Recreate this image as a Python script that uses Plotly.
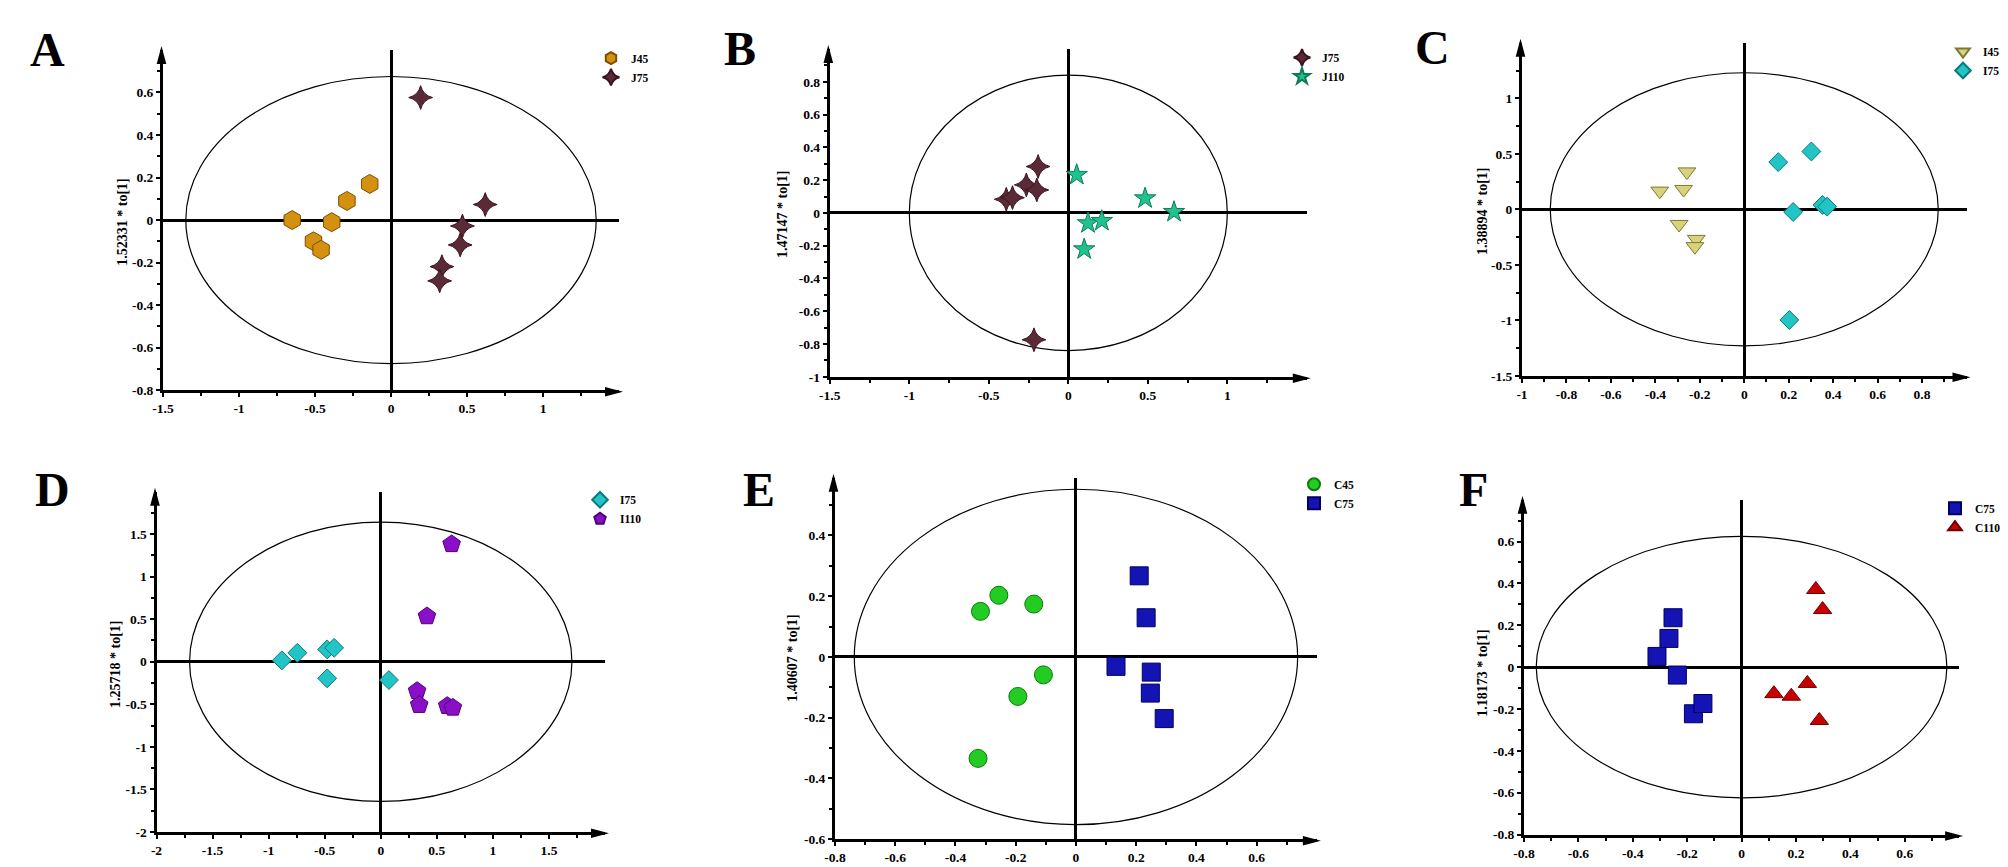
import numpy as np
import plotly.graph_objects as go

W, H = 2008, 867
FONT = "Liberation Serif, Times New Roman, serif"

# ---------------- data ----------------
# Panel A
A_J45_x = [-0.65, -0.51, -0.46, -0.39, -0.29, -0.14]
A_J45_y = [0.00, -0.10, -0.14, -0.01, 0.09, 0.17]
A_J75_x = [0.195, 0.62, 0.47, 0.455, 0.335, 0.32]
A_J75_y = [0.576, 0.073, -0.028, -0.117, -0.219, -0.286]
# Panel B
B_J75_x = [-0.19, -0.264, -0.198, -0.39, -0.351, -0.216]
B_J75_y = [0.283, 0.171, 0.14, 0.083, 0.093, -0.774]
B_J110_x = [0.053, 0.483, 0.665, 0.124, 0.211, 0.10]
B_J110_y = [0.232, 0.089, 0.006, -0.063, -0.049, -0.222]
# Panel C
C_I45_x = [-0.258, -0.38, -0.273, -0.293, -0.216, -0.222]
C_I45_y = [0.338, 0.165, 0.18, -0.135, -0.27, -0.335]
C_I75_x = [0.153, 0.302, 0.22, 0.352, 0.373, 0.203]
C_I75_y = [0.425, 0.521, -0.024, 0.039, 0.024, -0.997]
# Panel D
D_I75_x = [-0.882, -0.744, -0.478, -0.416, -0.478, 0.073]
D_I75_y = [0.016, 0.105, 0.145, 0.164, -0.195, -0.215]
D_I110_x = [0.632, 0.412, 0.324, 0.343, 0.593, 0.643]
D_I110_y = [1.383, 0.535, -0.344, -0.508, -0.52, -0.54]
# Panel E
E_C45_x = [-0.317, -0.256, -0.14, -0.108, -0.193, -0.325]
E_C45_y = [0.150, 0.203, 0.174, -0.059, -0.130, -0.334]
E_C75_x = [0.21, 0.233, 0.133, 0.25, 0.247, 0.293]
E_C75_y = [0.267, 0.129, -0.031, -0.05, -0.119, -0.203]
# Panel F
F_C75_x = [-0.252, -0.267, -0.311, -0.236, -0.177, -0.142]
F_C75_y = [0.236, 0.137, 0.051, -0.038, -0.223, -0.174]
F_C110_x = [0.273, 0.298, 0.242, 0.119, 0.183, 0.286]
F_C110_y = [0.371, 0.275, -0.078, -0.127, -0.139, -0.255]

# Hotelling ellipse semi-axes (x, y)
ellipse_A = [1.35, 0.675]
ellipse_B = [1.00, 0.84]
ellipse_C = [0.873, 1.23]
ellipse_D = [1.705, 1.642]
ellipse_E = [0.736, 0.552]
ellipse_F = [0.755, 0.625]

# y-axis titles
ytitle_A = "1.52331 * to[1]"
ytitle_B = "1.47147 * to[1]"
ytitle_C = "1.38894 * to[1]"
ytitle_D = "1.25718 * to[1]"
ytitle_E = "1.40607 * to[1]"
ytitle_F = "1.18173 * to[1]"

# tick values
xt_A = [-1.5, -1, -0.5, 0, 0.5, 1]
yt_A = [-0.8, -0.6, -0.4, -0.2, 0, 0.2, 0.4, 0.6]
xt_B = [-1.5, -1, -0.5, 0, 0.5, 1]
yt_B = [-1, -0.8, -0.6, -0.4, -0.2, 0, 0.2, 0.4, 0.6, 0.8]
xt_C = [-1, -0.8, -0.6, -0.4, -0.2, 0, 0.2, 0.4, 0.6, 0.8]
yt_C = [-1.5, -1, -0.5, 0, 0.5, 1]
xt_D = [-2, -1.5, -1, -0.5, 0, 0.5, 1, 1.5]
yt_D = [-2, -1.5, -1, -0.5, 0, 0.5, 1, 1.5]
xt_E = [-0.8, -0.6, -0.4, -0.2, 0, 0.2, 0.4, 0.6]
yt_E = [-0.6, -0.4, -0.2, 0, 0.2, 0.4]
xt_F = [-0.8, -0.6, -0.4, -0.2, 0, 0.2, 0.4, 0.6]
yt_F = [-0.8, -0.6, -0.4, -0.2, 0, 0.2, 0.4, 0.6]

# ---------------- styles ----------------
STY = {
    "J45": dict(symbol="hexagon", size=19, color="#D4900F", line="#7A5000"),
    "J75": dict(symbol="star-diamond", size=17, color="#5A2A36", line="#3A1520"),
    "J110": dict(symbol="star", size=16, color="#22C290", line="#0D7A58"),
    "I45": dict(symbol="triangle-down", size=15.5, color="#D6D27E", line="#7D7830"),
    "I75": dict(symbol="diamond", size=14.5, color="#22C4C6", line="#0A7A7C"),
    "I110": dict(symbol="pentagon", size=18.5, color="#8A10C8", line="#50007A"),
    "C45": dict(symbol="circle", size=18, color="#22CC22", line="#0D7A0D"),
    "C75": dict(symbol="square", size=18, color="#1414B4", line="#000060"),
    "C110": dict(symbol="triangle-up", size=16, color="#C80000", line="#700000"),
}

panels = [
    dict(letter="A", series=[("J45", A_J45_x, A_J45_y), ("J75", A_J75_x, A_J75_y)],
         ell=ellipse_A, yt=ytitle_A, xt=xt_A, ytk=yt_A, xr=[-1.5, 1.5], yr=[-0.8, 0.8],
         xminor=0.25, yminor=0.1,
         geom=(161.5, 619.0, 49.9, 391.7), letpos=(47, 50), tpos=(122.7, 222), leg=(631, 56.7)),
    dict(letter="B", series=[("J75", B_J75_x, B_J75_y), ("J110", B_J110_x, B_J110_y)],
         ell=ellipse_B, yt=ytitle_B, xt=xt_B, ytk=yt_B, xr=[-1.5, 1.5], yr=[-1, 1],
         xminor=0.25, yminor=0.1,
         geom=(828.3, 1306.8, 49.0, 378.3), letpos=(739.5, 48.5), tpos=(783, 214), leg=(1322, 56)),
    dict(letter="C", series=[("I45", C_I45_x, C_I45_y), ("I75", C_I75_x, C_I75_y)],
         ell=ellipse_C, yt=ytitle_C, xt=xt_C, ytk=yt_C, xr=[-1, 1], yr=[-1.5, 1.5],
         xminor=0.1, yminor=0.25,
         geom=(1520.5, 1966.5, 42.8, 377.3), letpos=(1432.7, 47.5), tpos=(1482, 211), leg=(1983, 50)),
    dict(letter="D", series=[("I75", D_I75_x, D_I75_y), ("I110", D_I110_x, D_I110_y)],
         ell=ellipse_D, yt=ytitle_D, xt=xt_D, ytk=yt_D, xr=[-2, 2], yr=[-2, 2],
         xminor=0.25, yminor=0.25,
         geom=(155.0, 605.0, 491.7, 833.3), letpos=(52.5, 489.5), tpos=(115, 664), leg=(620, 498.3)),
    dict(letter="E", series=[("C45", E_C45_x, E_C45_y), ("C75", E_C75_x, E_C75_y)],
         ell=ellipse_E, yt=ytitle_E, xt=xt_E, ytk=yt_E, xr=[-0.8, 0.8], yr=[-0.6, 0.59],
         xminor=0.1, yminor=0.1,
         geom=(833.5, 1316.9, 477.7, 840.7), letpos=(759, 489.5), tpos=(791.7, 658), leg=(1334, 482.7)),
    dict(letter="F", series=[("C75", F_C75_x, F_C75_y), ("C110", F_C110_x, F_C110_y)],
         ell=ellipse_F, yt=ytitle_F, xt=xt_F, ytk=yt_F, xr=[-0.8, 0.8], yr=[-0.8, 0.8],
         xminor=0.1, yminor=0.1,
         geom=(1522.5, 1959.1, 499.7, 836.0), letpos=(1473, 489.5), tpos=(1481.7, 673), leg=(1975, 506.7)),
]

AXLW = 3
fig = go.Figure()
layout = dict(
    width=W, height=H,
    margin=dict(l=0, r=0, t=0, b=0, autoexpand=False),
    paper_bgcolor="white", plot_bgcolor="white",
    font=dict(family=FONT, color="black"),
)
shapes = []
annotations = []


def px(x):
    return x / W


def py(y):
    return 1 - y / H


def minor_vals(r, step):
    n = int(round((r[1] - r[0]) / step))
    v = [r[0] + i * step for i in range(n)]
    return [round(a, 6) for a in v]


for i, p in enumerate(panels, start=1):
    sfx = "" if i == 1 else str(i)
    l, r, t, b = p["geom"]
    # axis lines are drawn half a line width outside the domain
    dl, dr, dt, db = l + AXLW / 2, r, t, b - AXLW / 2
    tickfont = dict(family=FONT, size=13.5, color="black", weight="bold")
    common = dict(showline=True, linewidth=AXLW, linecolor="black", mirror=False,
                  ticks="outside", ticklen=4, tickwidth=1.5, tickcolor="black",
                  showgrid=False, zeroline=True, zerolinewidth=2.5, zerolinecolor="black",
                  tickfont=tickfont, tickmode="array", fixedrange=True)
    layout["xaxis" + sfx] = dict(
        common, domain=[px(dl), px(dr)], range=p["xr"], anchor="y" + sfx,
        tickvals=p["xt"], ticktext=[f"{v:g}" for v in p["xt"]],
        minor=dict(tickmode="array", tickvals=minor_vals(p["xr"], p["xminor"]),
                   ticks="outside", ticklen=3, tickwidth=1.5, tickcolor="black", showgrid=False),
    )
    layout["yaxis" + sfx] = dict(
        common, domain=[py(db), py(dt)], range=p["yr"], anchor="x" + sfx,
        tickvals=p["ytk"], ticktext=[f"{v:g}" for v in p["ytk"]],
        minor=dict(tickmode="array", tickvals=minor_vals(p["yr"], p["yminor"]),
                   ticks="outside", ticklen=3, tickwidth=1.5, tickcolor="black", showgrid=False),
    )
    # ellipse
    a, bb = p["ell"]
    shapes.append(dict(type="circle", xref="x" + sfx, yref="y" + sfx,
                       x0=-a, x1=a, y0=-bb, y1=bb,
                       line=dict(color="black", width=1.2), layer="below"))
    # arrow heads
    ax_y = b  # center of x-axis line
    ax_x = l  # center of y-axis line
    shapes.append(dict(type="path", xref="paper", yref="paper",
                       path=f"M {px(r + 4)},{py(ax_y)} L {px(r - 14)},{py(ax_y - 4.8)} "
                            f"L {px(r - 14)},{py(ax_y + 4.8)} Z",
                       fillcolor="black", line=dict(width=0), layer="above"))
    shapes.append(dict(type="path", xref="paper", yref="paper",
                       path=f"M {px(ax_x)},{py(t - 4)} L {px(ax_x - 4.8)},{py(t + 14)} "
                            f"L {px(ax_x + 4.8)},{py(t + 14)} Z",
                       fillcolor="black", line=dict(width=0), layer="above"))
    # traces
    legname = "legend" + sfx
    for name, xs, ys in p["series"]:
        s = STY[name]
        fig.add_trace(go.Scatter(
            x=xs, y=ys, mode="markers", name=name,
            xaxis="x" + sfx, yaxis="y" + sfx, legend=legname,
            marker=dict(symbol=s["symbol"], size=s["size"], color=s["color"],
                        line=dict(color=s["line"], width=1)),
            hoverinfo="x+y+name",
        ))
    # legend: reference text start (x) and first row centre (y)
    tx0, ty0 = p["leg"]
    layout[legname] = dict(
        x=px(tx0 - 40), y=py(ty0 - 13), xanchor="left", yanchor="top",
        bgcolor="rgba(0,0,0,0)", borderwidth=0, itemsizing="constant",
        font=dict(family=FONT, size=11.5, color="black", weight="bold"),
        tracegroupgap=0, itemwidth=30,
    )
    # panel letter
    lx, ly = p["letpos"]
    annotations.append(dict(text=p["letter"], x=px(lx), y=py(ly), xref="paper", yref="paper",
                            xanchor="center", yanchor="middle", showarrow=False,
                            font=dict(family=FONT, size=48, color="black", weight="bold")))
    # y-axis title
    tx, ty = p["tpos"]
    annotations.append(dict(text=p["yt"], x=px(tx), y=py(ty), xref="paper", yref="paper",
                            xanchor="center", yanchor="middle", showarrow=False, textangle=-90,
                            font=dict(family=FONT, size=14, color="black", weight="bold")))

layout["shapes"] = shapes
layout["annotations"] = annotations
layout["showlegend"] = True
fig.update_layout(**layout)

fig.write_html("out.html", config={"displayModeBar": False},
               post_script="document.body.style.margin='0px';document.body.style.overflow='hidden';")
